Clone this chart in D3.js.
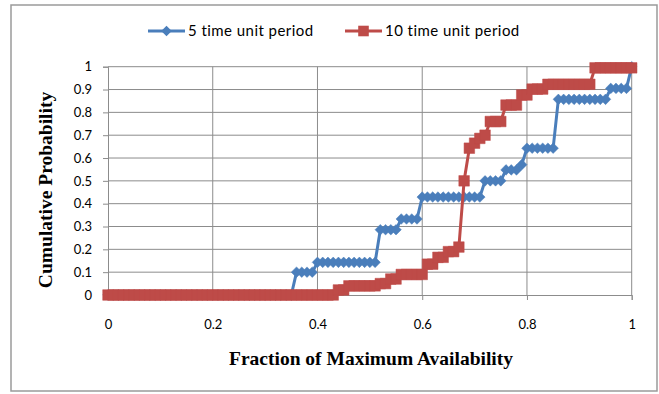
<!DOCTYPE html>
<html>
<head>
<meta charset="utf-8">
<script src="https://cdn.jsdelivr.net/npm/d3@7"></script>
<style>
  body { margin: 0; background: #fff; }
  svg text { font-family: Lato, "Open Sans", sans-serif; fill: #000; }
</style>
</head>
<body>
<div id="chart"></div>
<script>
// fraction of maximum availability (x values, one point every 0.01)
var fractions = [
  0.00, 0.01, 0.02, 0.03, 0.04, 0.05, 0.06, 0.07, 0.08, 0.09,
  0.10, 0.11, 0.12, 0.13, 0.14, 0.15, 0.16, 0.17, 0.18, 0.19,
  0.20, 0.21, 0.22, 0.23, 0.24, 0.25, 0.26, 0.27, 0.28, 0.29,
  0.30, 0.31, 0.32, 0.33, 0.34, 0.35, 0.36, 0.37, 0.38, 0.39,
  0.40, 0.41, 0.42, 0.43, 0.44, 0.45, 0.46, 0.47, 0.48, 0.49,
  0.50, 0.51, 0.52, 0.53, 0.54, 0.55, 0.56, 0.57, 0.58, 0.59,
  0.60, 0.61, 0.62, 0.63, 0.64, 0.65, 0.66, 0.67, 0.68, 0.69,
  0.70, 0.71, 0.72, 0.73, 0.74, 0.75, 0.76, 0.77, 0.78, 0.79,
  0.80, 0.81, 0.82, 0.83, 0.84, 0.85, 0.86, 0.87, 0.88, 0.89,
  0.90, 0.91, 0.92, 0.93, 0.94, 0.95, 0.96, 0.97, 0.98, 0.99,
  1.00
];

// cumulative probability, 5 time unit period
var period5 = [
  0, 0, 0, 0, 0, 0, 0, 0, 0, 0,
  0, 0, 0, 0, 0, 0, 0, 0, 0, 0,
  0, 0, 0, 0, 0, 0, 0, 0, 0, 0,
  0, 0, 0, 0, 0, 0, 0.1, 0.1, 0.1, 0.1,
  0.143, 0.143, 0.143, 0.143, 0.143, 0.143, 0.143, 0.143, 0.143, 0.143,
  0.143, 0.143, 0.286, 0.286, 0.286, 0.286, 0.333, 0.333, 0.333, 0.333,
  0.429, 0.429, 0.429, 0.429, 0.429, 0.429, 0.429, 0.429, 0.429, 0.429,
  0.429, 0.429, 0.5, 0.5, 0.5, 0.5, 0.548, 0.548, 0.548, 0.571,
  0.643, 0.643, 0.643, 0.643, 0.643, 0.643, 0.857, 0.857, 0.857, 0.857,
  0.857, 0.857, 0.857, 0.857, 0.857, 0.857, 0.905, 0.905, 0.905, 0.905,
  1
];

// cumulative probability, 10 time unit period
var period10 = [
  0, 0, 0, 0, 0, 0, 0, 0, 0, 0,
  0, 0, 0, 0, 0, 0, 0, 0, 0, 0,
  0, 0, 0, 0, 0, 0, 0, 0, 0, 0,
  0, 0, 0, 0, 0, 0, 0, 0, 0, 0,
  0, 0, 0, 0, 0.022, 0.022, 0.04, 0.04, 0.04, 0.04,
  0.04, 0.04, 0.05, 0.05, 0.07, 0.07, 0.09, 0.09, 0.09, 0.09,
  0.09, 0.135, 0.135, 0.165, 0.165, 0.19, 0.19, 0.21, 0.5, 0.643,
  0.665, 0.686, 0.7, 0.76, 0.76, 0.76, 0.832, 0.832, 0.832, 0.876,
  0.876, 0.902, 0.902, 0.902, 0.923, 0.923, 0.923, 0.923, 0.923, 0.923,
  0.923, 0.923, 0.923, 0.995, 0.995, 0.995, 0.995, 0.995, 0.995, 0.995,
  0.995
];

var seriesNames = ["5 time unit period", "10 time unit period"];
var xTicks = [0, 0.2, 0.4, 0.6, 0.8, 1];
var yTicks = [0, 0.1, 0.2, 0.3, 0.4, 0.5, 0.6, 0.7, 0.8, 0.9, 1];

var width = 659, height = 394;
var blue = "#4a7ebb", red = "#be4b48";

var svg = d3.select("#chart").append("svg")
    .attr("width", width)
    .attr("height", height);

// chart border
svg.append("rect")
    .attr("x", 11).attr("y", 5)
    .attr("width", 646).attr("height", 386)
    .attr("fill", "#fff")
    .attr("stroke", "#9a9a9a")
    .attr("stroke-width", 1.5);

var x = d3.scaleLinear().domain([0, 1]).range([108, 631.7]);
var y = d3.scaleLinear().domain([0, 1]).range([295, 66.7]);

// gridlines
svg.append("g").selectAll("line")
    .data(yTicks.slice(1))
    .enter().append("line")
    .attr("x1", x(0)).attr("x2", x(1))
    .attr("y1", function(d) { return y(d); })
    .attr("y2", function(d) { return y(d); })
    .attr("stroke", "#8c8c8c").attr("stroke-width", 1);

svg.append("g").selectAll("line")
    .data(xTicks.slice(1))
    .enter().append("line")
    .attr("x1", function(d) { return x(d); })
    .attr("x2", function(d) { return x(d); })
    .attr("y1", y(1)).attr("y2", y(0))
    .attr("stroke", "#8c8c8c").attr("stroke-width", 1);

// axes
var xAxis = svg.append("g")
    .attr("transform", "translate(0," + y(0) + ")")
    .call(d3.axisBottom(x).tickValues(xTicks).tickSize(5).tickPadding(20)
        .tickFormat(function(d) { return d3.format("")(d); }));
var yAxis = svg.append("g")
    .attr("transform", "translate(" + x(0) + ",0)")
    .call(d3.axisLeft(y).tickValues(yTicks).tickSize(5).tickPadding(11)
        .tickFormat(function(d) { return d3.format("")(d); }));

[xAxis, yAxis].forEach(function(a) {
  a.select(".domain").attr("stroke", "#8c8c8c").attr("stroke-width", 1);
  a.selectAll(".tick line").attr("stroke", "#8c8c8c");
  a.selectAll(".tick text")
      .style("font-family", "Lato, 'Open Sans', sans-serif")
      .style("font-size", "13px")
      .attr("fill", "#000");
});

// axis titles
svg.append("text")
    .attr("x", 371).attr("y", 365)
    .attr("text-anchor", "middle")
    .style("font-family", "'Liberation Serif', 'Times New Roman', serif")
    .style("font-weight", "bold")
    .style("font-size", "19.5px")
    .text("Fraction of Maximum Availability");

svg.append("text")
    .attr("transform", "translate(52,190) rotate(-90)")
    .attr("text-anchor", "middle")
    .style("font-family", "'Liberation Serif', 'Times New Roman', serif")
    .style("font-weight", "bold")
    .style("font-size", "19.5px")
    .text("Cumulative Probability");

// series
var line = d3.line()
    .x(function(d) { return x(d[0]); })
    .y(function(d) { return y(d[1]); });

var data5 = fractions.map(function(f, i) { return [f, period5[i]]; });
var data10 = fractions.map(function(f, i) { return [f, period10[i]]; });

// square diamond, same width and height
var diamondType = {
  draw: function(ctx, size) {
    var r = Math.sqrt(size / 2);
    ctx.moveTo(0, -r);
    ctx.lineTo(r, 0);
    ctx.lineTo(0, r);
    ctx.lineTo(-r, 0);
    ctx.closePath();
  }
};
var diamond = d3.symbol().type(diamondType).size(56);
var square = d3.symbol().type(d3.symbolSquare).size(112);

function drawSeries(data, color, sym) {
  var g = svg.append("g");
  g.append("path")
      .attr("d", line(data))
      .attr("fill", "none")
      .attr("stroke", color)
      .attr("stroke-width", 3)
      .attr("stroke-linejoin", "round");
  g.selectAll("path.m")
      .data(data)
      .enter().append("path")
      .attr("class", "m")
      .attr("d", sym)
      .attr("transform", function(d) {
        return "translate(" + x(d[0]) + "," + y(d[1]) + ")";
      })
      .attr("fill", color)
      .attr("stroke", color)
      .attr("stroke-width", 0.5);
}

drawSeries(data5, blue, diamond);
drawSeries(data10, red, square);

// legend
var legend = [
  { name: seriesNames[0], color: blue, sym: diamond, x0: 148 },
  { name: seriesNames[1], color: red, sym: square, x0: 345 }
];
var lg = svg.append("g").selectAll("g")
    .data(legend)
    .enter().append("g")
    .attr("transform", function(d) { return "translate(" + d.x0 + ",31)"; });
lg.append("line")
    .attr("x1", 0).attr("x2", 37)
    .attr("stroke", function(d) { return d.color; })
    .attr("stroke-width", 3);
lg.append("path")
    .attr("d", function(d) { return d.sym(); })
    .attr("transform", "translate(18.5,0)")
    .attr("fill", function(d) { return d.color; });
lg.append("text")
    .attr("x", 40).attr("y", 5)
    .style("font-size", "15px")
    .style("letter-spacing", "0.45px")
    .text(function(d) { return d.name; });
</script>
</body>
</html>
